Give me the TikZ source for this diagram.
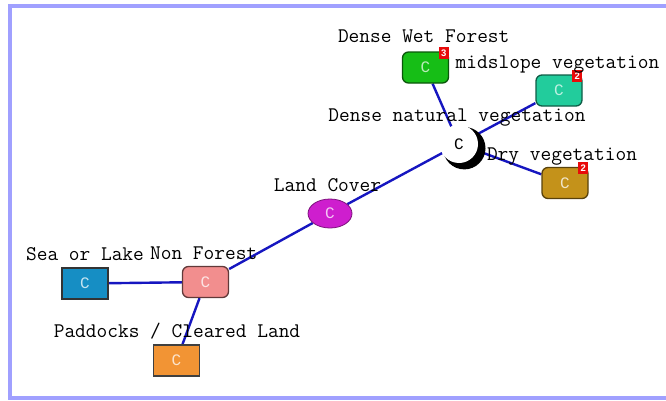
\documentclass[tikz,border=0pt]{standalone}
\usepackage{fontspec}
\newfontfamily\glyphfont{Liberation Mono}
\setsansfont{Liberation Sans}
\usetikzlibrary{backgrounds,shapes.geometric}

\definecolor{framec}{RGB}{160,160,255}
\definecolor{linkblue}{RGB}{22,22,192}
\definecolor{badgered}{RGB}{232,10,10}
\definecolor{cgreen}{RGB}{22,190,22}
\definecolor{cteal}{RGB}{34,204,156}
\definecolor{cgold}{RGB}{196,146,26}
\definecolor{cmagenta}{RGB}{206,30,206}
\definecolor{cpink}{RGB}{242,142,142}
\definecolor{cblue}{RGB}{22,142,196}
\definecolor{corange}{RGB}{242,148,52}

\begin{document}
\begin{tikzpicture}[x=1pt,y=1pt,
  lbl/.style={font=\ttfamily\fontsize{20.8}{22}\selectfont, anchor=base, inner sep=0pt},
  cat/.style={rectangle, rounded corners=6pt, minimum width=46pt, minimum height=31pt,
    line width=1.3pt, inner sep=0pt, font=\glyphfont\fontsize{16}{18}\selectfont},
  sq/.style={cat, sharp corners, line width=1.8pt},
  badge/.style={rectangle, fill=badgered, text=white, inner sep=0pt,
    minimum width=10pt, minimum height=12pt,
    font=\sffamily\bfseries\fontsize{9.5}{10}\selectfont},
  link/.style={draw=linkblue, line width=2.4pt}]

\useasboundingbox (0,0) rectangle (666,400);

% category nodes
\node[cat, fill=cgreen, draw=cgreen!45!black, text=cgreen!30!white] (dwf) at (425.5,332.5) {C};
\node[cat, fill=cteal, draw=cteal!45!black, text=cteal!30!white] (mid) at (559,309.5) {C};
\node[cat, fill=cgold, draw=cgold!45!black, text=cgold!25!white] (dry) at (565,217) {C};
\node[circle, fill=white, minimum size=38pt, inner sep=0pt,
  font=\glyphfont\fontsize{16}{18}\selectfont] (hub) at (459,256) {C};
\node[ellipse, fill=cmagenta, draw=cmagenta!60!black, line width=0.8pt,
  minimum width=44pt, minimum height=29pt, inner sep=0pt, text=cmagenta!25!white,
  font=\glyphfont\fontsize{16}{18}\selectfont] (lc) at (330,186.5) {C};
\node[cat, fill=cpink, draw=cpink!40!black, text=cpink!25!white] (nf) at (205.5,118) {C};
\node[sq, fill=cblue, draw=black!80, text=cblue!25!white] (sea) at (85,116.5) {C};
\node[sq, fill=corange, draw=black!75, text=corange!25!white] (pad) at (176.5,39.5) {C};

% child-count badges
\node[badge] (bdwf) at ([xshift=-5.5pt,yshift=-1.5pt]dwf.north east) {3};
\node[badge] (bmid) at ([xshift=-5.5pt,yshift=-1.5pt]mid.north east) {2};
\node[badge] (bdry) at ([xshift=-5.5pt,yshift=-1.5pt]dry.north east) {2};

\begin{pgfonlayer}{background}
  % window frame
  \fill[framec] (8,392) rectangle (666,396);
  \fill[framec] (8,0) rectangle (12,396);
  \fill[framec] (8,0) rectangle (666,4);
  % links
  \draw[link] (hub) -- (dwf);
  \draw[link] (hub) -- (mid);
  \draw[link] (hub) -- (dry);
  \draw[link] (hub) -- (lc);
  \draw[link] (lc) -- (nf);
  \draw[link] (nf) -- (sea);
  \draw[link] (nf) -- (pad);
  % crescent behind the hub circle
  \fill[black] (464.3,251.8) circle[radius=21.2];
\end{pgfonlayer}

% labels
\node[lbl] (tdwf) at (423.7,357.3) {Dense Wet Forest};
\node[lbl] (tmid) at (557.5,331.7) {midslope vegetation};
\node[lbl] (thub) at (457,279) {Dense natural vegetation};
\node[lbl] (tdry) at (562,240) {Dry vegetation};
\node[lbl] (tlc) at (327.5,209) {Land Cover};
\node[lbl] (tsea) at (85,140) {Sea or Lake};
\node[lbl] (tnf) at (203.7,140.7) {Non Forest};
\node[lbl] (tpad) at (177,62.3) {Paddocks / Cleared Land};
\end{tikzpicture}
\end{document}
